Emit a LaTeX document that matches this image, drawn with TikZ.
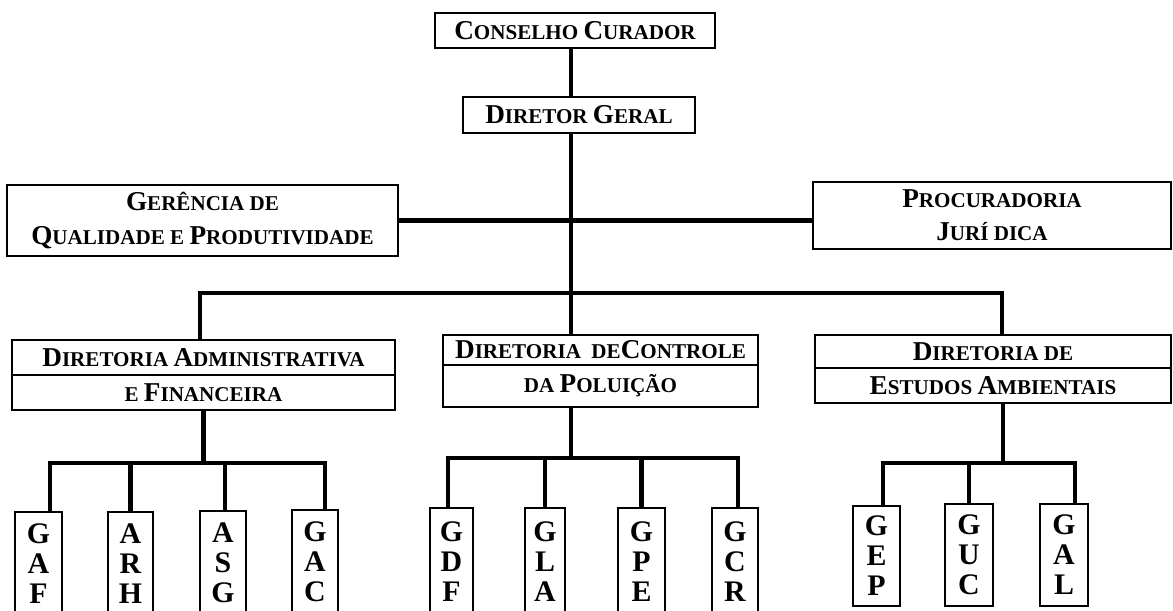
\documentclass[tikz,border=0pt]{standalone}
\usepackage{fontspec}
\setmainfont{Liberation Serif}
\newcommand{\pcap}[2]{{\fontsize{15.5}{15}\selectfont #1}{\fontsize{12}{12}\selectfont #2}}
\begin{document}
\begin{tikzpicture}[x=0.02cm, y=-0.02cm]
    \tikzset{box/.style={draw, line width=1pt, inner sep=0pt, align=center, font=\bfseries\fontsize{12}{19}\selectfont}}
    \tikzset{leaf/.style={box, anchor=north, minimum height=2.08cm, font=\bfseries\fontsize{17}{17}\selectfont}}
    \tikzset{wire/.style={line width=2.5pt}}
    \clip (0,0) rectangle (1173,610);
    % top of the chart
    \node[box, minimum width=5.6cm, minimum height=0.7cm] (cc) at (575,30.5) {\pcap{C}{ONSELHO} \pcap{C}{URADOR}};
    \node[box, minimum width=4.64cm, minimum height=0.72cm] (dg) at (579,115) {\pcap{D}{IRETOR} \pcap{G}{ERAL}};
    \node[box, minimum width=7.82cm, minimum height=1.42cm] (gqp) at (202.5,220.5) {\pcap{G}{ERÊNCIA DE}\\\pcap{Q}{UALIDADE E} \pcap{P}{RODUTIVIDADE}};
    \node[box, minimum width=7.16cm, minimum height=1.34cm] (pj) at (992,215.5) {\pcap{P}{ROCURADORIA}\\\pcap{J}{URÍ DICA}};
    % directorates
    \node[box, minimum width=7.66cm, minimum height=0.7cm] (daf1) at (203.5,357.5) {\pcap{D}{IRETORIA} \pcap{A}{DMINISTRATIVA}};
    \node[box, minimum width=7.66cm, minimum height=0.7cm] (daf2) at (203.5,392.5) {\pcap{}{E} \pcap{F}{INANCEIRA}};
    \node[box, minimum width=6.3cm, minimum height=0.6cm] (dcp1) at (600.5,350) {\pcap{D}{IRETORIA}\ \ \pcap{}{DE}\pcap{C}{ONTROLE}};
    \node[box, minimum width=6.3cm, minimum height=0.84cm] (dcp2) at (600.5,386) {\pcap{}{DA} \pcap{P}{OLUIÇÃO}};
    \node[box, minimum width=7.12cm, minimum height=0.66cm] (dea1) at (993,351.5) {\pcap{D}{IRETORIA} \pcap{}{DE}};
    \node[box, minimum width=7.12cm, minimum height=0.7cm] (dea2) at (993,385.5) {\pcap{E}{STUDOS} \pcap{A}{MBIENTAIS}};
    % sections
    \node[leaf, minimum width=0.94cm] (gaf) at (38.5,511) {G\\A\\F};
    \node[leaf, minimum width=0.9cm] (arh) at (130.5,511) {A\\R\\H};
    \node[leaf, minimum width=0.92cm] (asg) at (223,510) {A\\S\\G};
    \node[leaf, minimum width=0.92cm] (gac) at (315,509) {G\\A\\C};
    \node[leaf, minimum width=0.86cm, minimum height=2.14cm] (gdf) at (451.5,507) {G\\D\\F};
    \node[leaf, minimum width=0.8cm, minimum height=2.14cm] (gla) at (545,507) {G\\L\\A};
    \node[leaf, minimum width=0.94cm, minimum height=2.14cm] (gpe) at (641.5,507) {G\\P\\E};
    \node[leaf, minimum width=0.92cm, minimum height=2.14cm] (gcr) at (735,507) {G\\C\\R};
    \node[leaf, minimum width=0.94cm, minimum height=2cm] (gep) at (876.5,505) {G\\E\\P};
    \node[leaf, minimum width=0.96cm, minimum height=2.04cm] (guc) at (969,503) {G\\U\\C};
    \node[leaf, minimum width=0.96cm, minimum height=2.04cm] (gal) at (1064,503) {G\\A\\L};
    % connectors
    \coordinate (spine) at (571,0);
    \coordinate (topbus) at (0,293);
    \coordinate (dafbus) at (0,463);
    \coordinate (dcpbus) at (0,458);
    \coordinate (deabus) at (0,463);
    \draw[wire] (cc.south -| spine) -- (dg.north -| spine);
    \draw[wire] (dg.south -| spine) -- (dcp1.north -| spine);
    \draw[wire] (gqp.east) -- (gqp.east -| pj.west);
    \draw[wire] ([xshift=-0.07cm]daf1.north) |- (topbus -| spine) -| ([xshift=0.18cm]dea1.north);
    \draw[wire] (daf2.south) -- (daf2.south |- dafbus);
    \draw[wire] ([xshift=0.23cm]gaf.north) |- (dafbus -| daf2.south) -| ([xshift=0.2cm]gac.north);
    \draw[wire] (arh.north) -- (arh.north |- dafbus);
    \draw[wire] ([xshift=0.04cm]asg.north) -- ([xshift=0.04cm]asg.north |- dafbus);
    \draw[wire] (dcp2.south -| spine) -- (dcpbus -| spine);
    \draw[wire] ([xshift=-0.07cm]gdf.north) |- (dcpbus -| spine) -| ([xshift=0.06cm]gcr.north);
    \draw[wire] (gla.north) -- (gla.north |- dcpbus);
    \draw[wire] (gpe.north) -- (gpe.north |- dcpbus);
    \draw[wire] ([xshift=0.2cm]dea2.south) -- ([xshift=0.2cm]dea2.south |- deabus);
    \draw[wire] ([xshift=0.13cm]gep.north) |- (deabus -| guc.north) -| ([xshift=0.22cm]gal.north);
    \draw[wire] (guc.north) -- (guc.north |- deabus);
\end{tikzpicture}
\end{document}
